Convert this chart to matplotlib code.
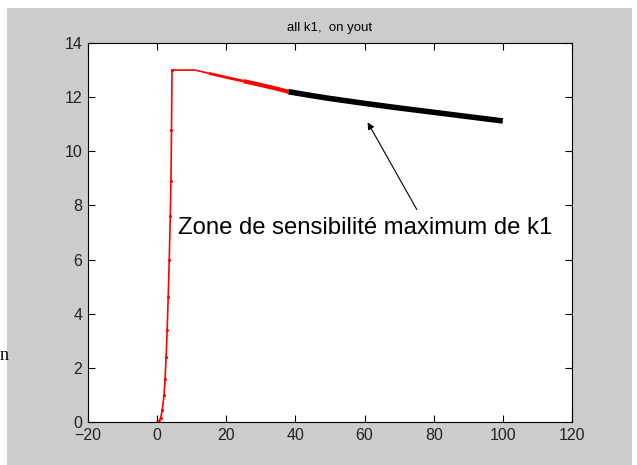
import matplotlib
matplotlib.use("Agg")
import matplotlib.pyplot as plt
from matplotlib.patches import Rectangle
import numpy as np

# rise part (red, thin with dots)
rise_t = [0, 0.5, 1.0, 1.5, 2.0, 2.3, 2.6, 2.9, 3.2, 3.5, 3.8, 4.0, 4.15, 4.3]
rise_y = [0, 0.02, 0.15, 0.45, 1.0, 1.6, 2.4, 3.4, 4.6, 6.0, 7.6, 8.9, 10.8, 13.0]

# flat top then decay, red up to 38 then black
red_t = [4.3, 8, 11, 15, 20, 25, 30, 34, 38]
red_y = [13.0, 13.0, 13.0, 12.88, 12.73, 12.59, 12.45, 12.33, 12.2]
black_t = [38, 45, 50, 60, 70, 80, 90, 100]
black_y = [12.2, 12.05, 11.95, 11.77, 11.6, 11.44, 11.28, 11.12]

plt.rcParams['font.family'] = ['Liberation Sans', 'DejaVu Sans']

fig = plt.figure(figsize=(6.37, 4.65), dpi=100)
fig.patch.set_facecolor('white')
fig.patches.append(Rectangle((7 / 637, 0), 625 / 637, 1 - 8 / 465, transform=fig.transFigure,
                             facecolor='#cccccc', edgecolor='none', zorder=-10))

ax = fig.add_axes([88 / 637, 1 - 422 / 465, 484 / 637, 379 / 465])
ax.set_facecolor('white')

ax.plot(rise_t, rise_y, color='red', lw=1.2, marker='.', ms=2.5)
ax.plot(red_t[:4], red_y[:4], color='red', lw=1.2, solid_capstyle='butt')
ax.plot(red_t[3:6], red_y[3:6], color='red', lw=2.0, solid_capstyle='butt')
ax.plot(red_t[5:], red_y[5:], color='red', lw=3.0, solid_capstyle='butt')
ax.plot(black_t, black_y, color='black', lw=4.0, solid_capstyle='butt')

ax.set_xlim(-20, 120)
ax.set_ylim(0, 14)
ax.set_xticks(np.arange(-20, 121, 20))
ax.set_yticks(np.arange(0, 15, 2))
ax.tick_params(direction='in', length=5, top=True, right=True, labelsize=11.5,
               labelcolor='#222222', pad=4)
for s in ax.spines.values():
    s.set_linewidth(0.8)

ax.set_title("all k1,  on yout", fontsize=9.5, pad=9)

ax.annotate("", xy=(60.5, 11.16), xytext=(75.5, 7.76),
            arrowprops=dict(arrowstyle='-|>', color='black', lw=0.8,
                            mutation_scale=10))
ax.text(6.1, 7.17, "Zone de sensibilité maximum de k1", fontsize=17.2, va='center', ha='left')

fig.text(0.0, 1 - 355 / 465, "n", family=['Liberation Serif', 'DejaVu Serif'],
         fontsize=13, va='center', ha='left')

fig.savefig("out.png", dpi=100)
